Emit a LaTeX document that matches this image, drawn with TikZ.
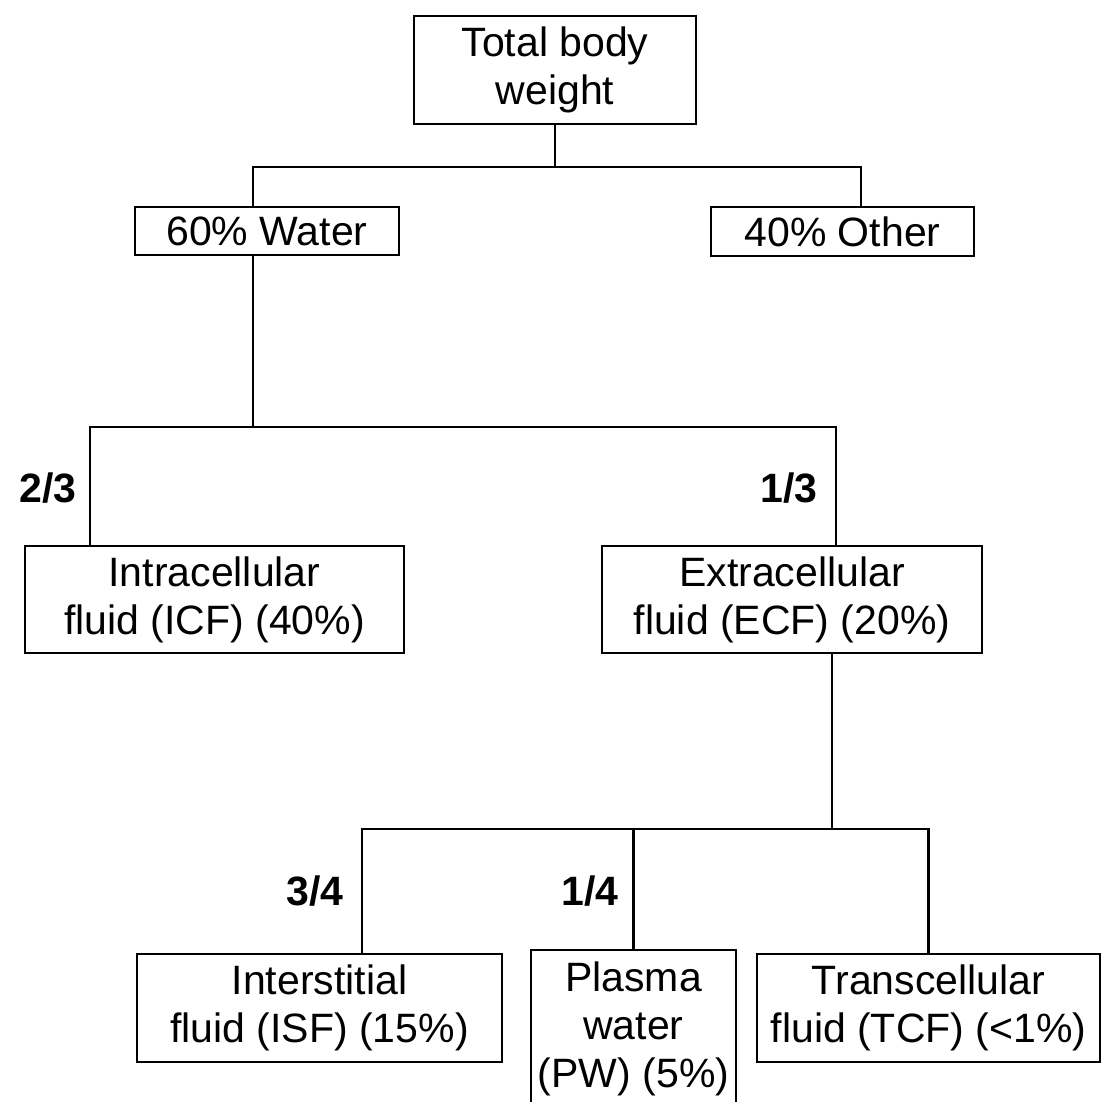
\documentclass[tikz,border=0pt]{standalone}
\usepackage{fontspec}
\setmainfont{Liberation Sans}
\usepackage{tikz}
\usetikzlibrary{calc,positioning}

\begin{document}
\begin{tikzpicture}[x=0.5pt,y=-0.5pt,line width=1.3pt,
    box/.style={draw,rectangle,align=center,inner sep=0pt,
        font=\fontsize{20.5}{24}\selectfont},
    frac/.style={font=\fontsize{20.5}{24}\selectfont\bfseries}]
                \useasboundingbox (0,0) rectangle (1109,1102);
                % boxes
                \node[box,minimum width=141pt,minimum height=54pt] (total) at (555,70) {Total body\\weight};
                \node[box,minimum width=132pt,minimum height=24pt] (water) at (267,231) {60\% Water};
                \node[box,minimum width=131.5pt,minimum height=24.5pt] (other) at (842.5,231.5) {40\% Other};
                \node[box,minimum width=189.5pt,minimum height=53.5pt] (icf) at (214.5,599.5) {Intracellular\\fluid (ICF) (40\%)};
                \node[box,minimum width=190pt,minimum height=53.5pt] (ecf) at (792,599.5) {Extracellular\\fluid (ECF) (20\%)};
                \node[box,minimum width=182.5pt,minimum height=54pt] (isf) at (319.5,1008) {Interstitial\\fluid (ISF) (15\%)};
                \node[box,minimum width=102.5pt,minimum height=79pt] (pw) at (633.5,1029) {Plasma\\water\\(PW) (5\%)};
                \node[box,minimum width=171.5pt,minimum height=54pt] (tcf) at (928.5,1008) {Transcellular\\fluid (TCF) (<1\%)};
                % junctions
                \coordinate (bus1) at (555,167);
                \coordinate (bus2) at (253,427);
                \coordinate (bus3) at (832,829);
                % connectors
                \draw (total.south) -- (bus1);
                \draw ([xshift=-7pt]water.north) |- (bus1) -| ([xshift=9.25pt]other.north);
                \draw ([xshift=-7pt]water.south) -- (bus2);
                \draw ([xshift=-62.25pt]icf.north) |- (bus2) -| ([xshift=22pt]ecf.north);
                \draw ([xshift=20pt]ecf.south) -- (bus3);
                \draw ([xshift=21.25pt]isf.north) |- (bus3) -| (tcf.north);
                \draw (pw.north) -- (pw.north |- bus3);
                % fractions
                \node[frac] (f23) at (48,488) {2/3};
                \node[frac] (f13) at (789,488) {1/3};
                \node[frac] (f34) at (315,891) {3/4};
                \node[frac] (f14) at (590,891) {1/4};
            \end{tikzpicture}
\end{document}
